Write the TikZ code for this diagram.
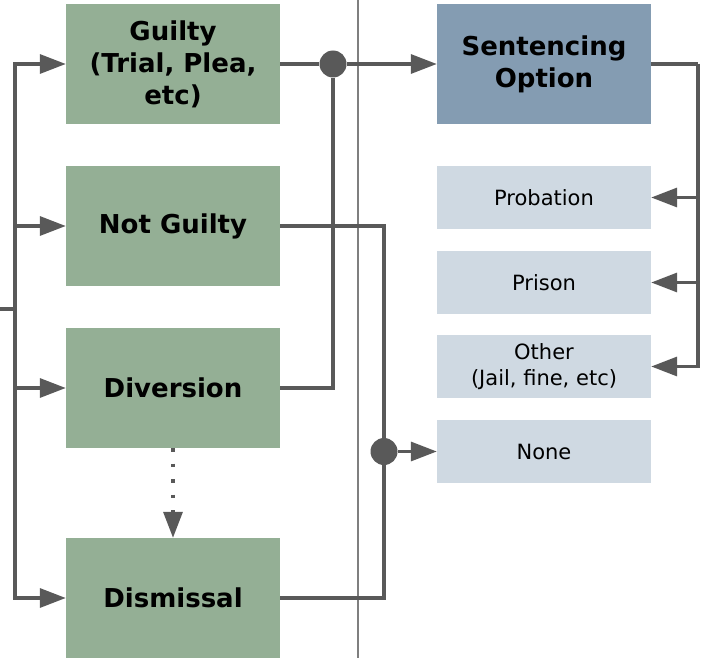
\documentclass[tikz,border=0pt]{standalone}
\usepackage{fontspec}
\setmainfont{DejaVu Sans}
\usetikzlibrary{arrows.meta,calc}

\definecolor{caseGreen}{HTML}{94AF95}
\definecolor{sentBlue}{HTML}{849CB2}
\definecolor{optBlue}{HTML}{CFD9E2}
\definecolor{lineGray}{HTML}{595959}
\definecolor{sepGray}{HTML}{7F7F7F}

\tikzset{
	outcome/.style={rectangle, fill=caseGreen, minimum width=214pt, minimum height=120pt, inner sep=0pt, align=center, font=\fontsize{26}{32}\selectfont\bfseries},
	sentence/.style={outcome, fill=sentBlue},
	option/.style={rectangle, fill=optBlue, minimum width=214pt, minimum height=63pt, inner sep=0pt, align=center, font=\fontsize{21}{26}\selectfont},
	junction/.style={circle, fill=lineGray, minimum size=27pt, inner sep=0pt},
	conn/.style={draw=lineGray, line width=3.3pt},
	arr/.style={conn, -{Triangle[length=26pt,width=19pt]}},
	sep/.style={draw=sepGray, line width=1.5pt}
}

\begin{document}
\begin{tikzpicture}[x=1pt, y=-1pt]
			\useasboundingbox (0,0) rectangle (701,658);

			\coordinate (S1) at (358,0);
			\coordinate (S2) at (358,658);
			\draw[sep] (S1)--(S2);

			\node[outcome] (Guilty) at (173,64) {Guilty\\(Trial, Plea,\\etc)};
			\node[outcome] (NotGuilty) at (173,226) {Not Guilty};
			\node[outcome] (Diversion) at (173,388) {Diversion};
			\node[outcome] (Dismissal) at (173,598) {Dismissal};

			\node[sentence] (Sentencing) at (544,64) {Sentencing\\Option};
			\node[option] (Probation) at (544,197.5) {Probation};
			\node[option] (Prison) at (544,282.5) {Prison};
			\node[option] (Other) at (544,366.5) {Other\\(Jail, fine, etc)};
			\node[option] (None) at (544,451.5) {None};

			\coordinate (In) at (0,309);
			\coordinate (Split) at (15,309);
			\draw[conn] (In)--(Split);
			\draw[arr] (Split) |- (Guilty);
			\draw[arr] (Split) |- (NotGuilty);
			\draw[arr] (Split) |- (Diversion);
			\draw[arr] (Split) |- (Dismissal);

			\node[junction] (J1) at (333,64) {};
			\draw[conn] (Guilty)--(J1);
			\draw[conn] (Diversion) -| (J1);
			\draw[arr] (J1)--(Sentencing);

			\node[junction] (J2) at (384,451.5) {};
			\draw[conn] (NotGuilty) -| (J2);
			\draw[conn] (Dismissal) -| (J2);
			\draw[arr] (J2)--(None);

			\coordinate (B1) at (698,64);
			\draw[conn] (Sentencing)--(B1);
			\draw[arr] (B1) |- (Probation);
			\draw[arr] (B1) |- (Prison);
			\draw[arr] (B1) |- (Other);

			\draw[arr, dash pattern=on 3.5pt off 12pt] (Diversion)--(Dismissal);
		\end{tikzpicture}
\end{document}
